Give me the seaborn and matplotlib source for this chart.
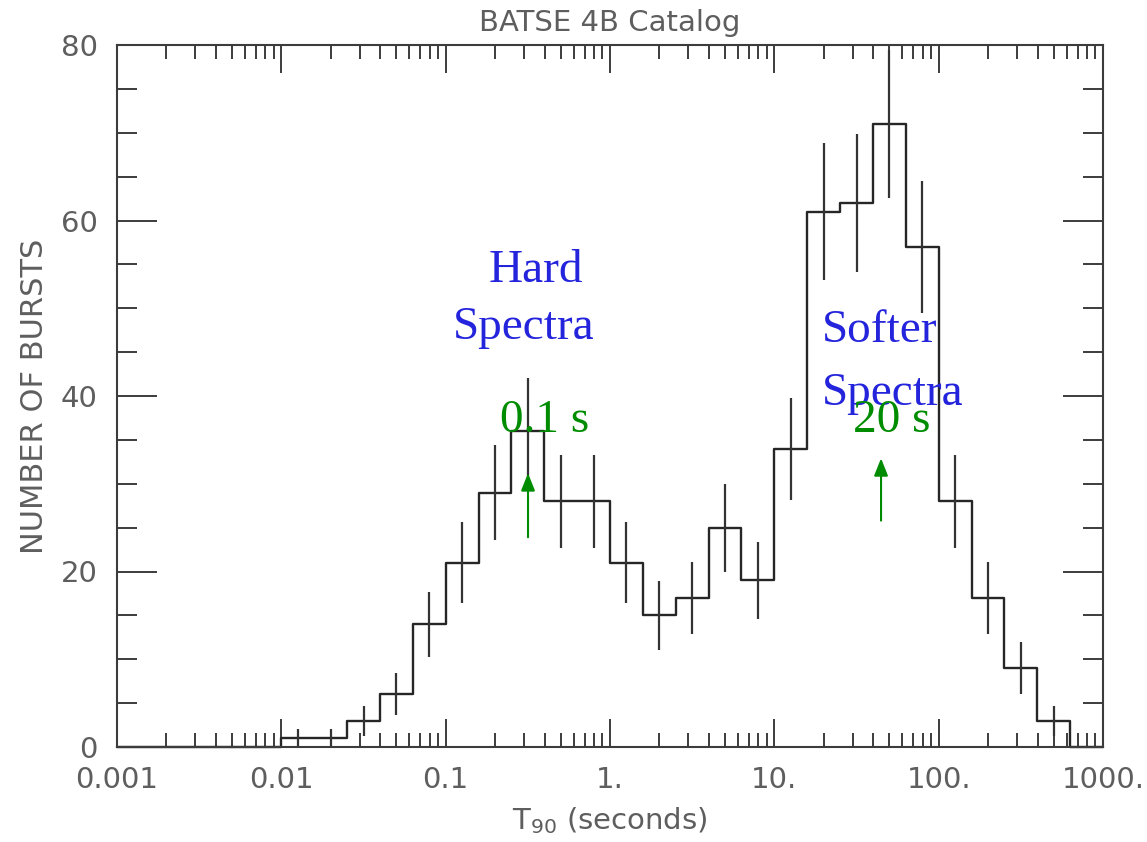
import numpy as np
import pandas as pd
import matplotlib
matplotlib.use("Agg")
import matplotlib.pyplot as plt
from matplotlib.ticker import FixedLocator, FixedFormatter, LogLocator, MultipleLocator, NullFormatter
import seaborn as sns

# BATSE 4B T90 distribution, bins 0.2 dex wide from 0.001 s to 1000 s
bin_edges = np.logspace(-3, 3, 31)
burst_counts = [0, 0, 0, 0, 0,
                1, 1, 3, 6, 14, 21, 29, 36, 28, 28,
                21, 15, 17, 25, 19, 34, 61, 62, 71, 57,
                28, 17, 9, 3, 0]
count_errors = [0, 0, 0, 0, 0,
                1.0, 1.0, 1.7, 2.4, 3.7, 4.6, 5.4, 6.0, 5.3, 5.3,
                4.6, 3.9, 4.1, 5.0, 4.4, 5.8, 7.8, 7.9, 8.4, 7.5,
                5.3, 4.1, 3.0, 1.7, 0]

x_major_ticks = [0.001, 0.01, 0.1, 1, 10, 100, 1000]
x_tick_labels = ["0.001", "0.01", "0.1", "1.", "10.", "100.", "1000."]
y_major_ticks = [0, 20, 40, 60, 80]

sns.set_style("ticks")
plt.rcParams["font.family"] = ["DejaVu Sans"]

AX_COL = "#3c3c3c"
TXT_COL = "#5e5e5e"
LINE_COL = "#262626"
BLUE = "#2424dc"
GREEN = "#008c00"

fig = plt.figure(figsize=(11.47, 8.42), dpi=100)
ax = fig.add_axes([117 / 1147, 1 - 747 / 842, (1103 - 117) / 1147, (747 - 45) / 842])
ax.set_xscale("log")

# step outline of the histogram
step_df = pd.DataFrame({"t90": bin_edges,
                        "n": burst_counts + [burst_counts[-1]]})
sns.lineplot(data=step_df, x="t90", y="n", ax=ax, estimator=None, sort=False,
             drawstyle="steps-post", color=LINE_COL, lw=1.7, clip_on=False)

# Poisson error bars at the bin centres
centers = np.sqrt(bin_edges[:-1] * bin_edges[1:])
counts = np.array(burst_counts, dtype=float)
errs = np.array(count_errors, dtype=float)
mask = counts > 0
ax.errorbar(centers[mask], counts[mask], yerr=errs[mask], fmt="none",
            ecolor="#333333", elinewidth=1.6, capsize=0)

ax.set_xlim(1e-3, 1e3)
ax.set_ylim(0, 80)

ax.xaxis.set_major_locator(FixedLocator(x_major_ticks))
ax.xaxis.set_major_formatter(FixedFormatter(x_tick_labels))
ax.xaxis.set_minor_locator(LogLocator(base=10, subs=np.arange(2, 10), numticks=20))
ax.xaxis.set_minor_formatter(NullFormatter())
ax.yaxis.set_major_locator(FixedLocator(y_major_ticks))
ax.yaxis.set_minor_locator(MultipleLocator(5))

ax.tick_params(axis="both", which="both", direction="in", top=True, right=True,
               color=AX_COL, width=1.4, labelcolor=TXT_COL, labelsize=21, pad=14)
ax.tick_params(axis="x", which="major", length=20)
ax.tick_params(axis="x", which="minor", length=10)
ax.tick_params(axis="y", which="major", length=29)
ax.tick_params(axis="y", which="minor", length=14.5)

for sp in ax.spines.values():
    sp.set_color(AX_COL)
    sp.set_linewidth(1.5)

ax.set_title("BATSE 4B Catalog", fontsize=21, color=TXT_COL, pad=10)
ax.set_xlabel(r"T$_{90}$ (seconds)", fontsize=21, color=TXT_COL)
ax.set_ylabel("NUMBER OF BURSTS", fontsize=22, color=TXT_COL)
ax.xaxis.set_label_coords(0.5, -0.083)
ax.yaxis.set_label_coords(-0.069, 0.5)

# population labels
serif = "Liberation Serif"
ax.text(0.352, 53.0, "Hard", ha="center", va="baseline", fontsize=34, color=BLUE, family=serif)
ax.text(0.300, 46.5, "Spectra", ha="center", va="baseline", fontsize=34, color=BLUE, family=serif)
ax.text(19.5, 46.2, "Softer", ha="left", va="baseline", fontsize=34, color=BLUE, family=serif)
ax.text(19.5, 39.0, "Spectra", ha="left", va="baseline", fontsize=34, color=BLUE, family=serif)

ax.text(0.214, 35.9, "0.1 s", ha="left", va="baseline", fontsize=34, color=GREEN, family=serif, zorder=5)
ax.text(30.1, 35.9, "20 s", ha="left", va="baseline", fontsize=34, color=GREEN, family=serif, zorder=5)

arrow_kw = dict(arrowstyle="-|>,head_length=0.75,head_width=0.3", color=GREEN, lw=1.5,
                mutation_scale=14, shrinkA=0, shrinkB=0)
ax.annotate("", xy=(0.317, 31.2), xytext=(0.317, 23.9), arrowprops=arrow_kw)
ax.annotate("", xy=(44.6, 32.9), xytext=(44.6, 25.8), arrowprops=arrow_kw)

fig.savefig("out.png", dpi=100)
